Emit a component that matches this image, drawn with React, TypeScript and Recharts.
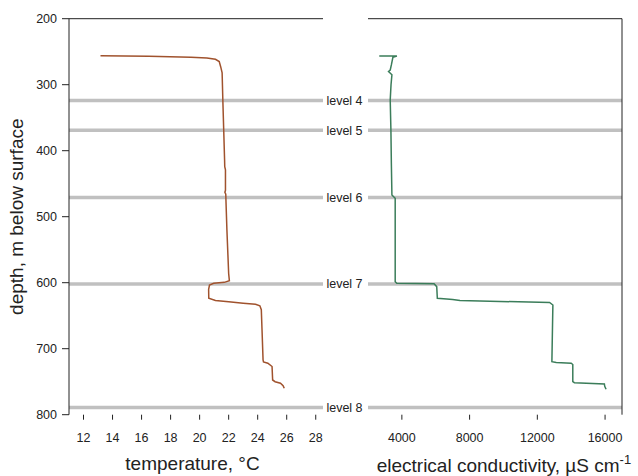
import React from 'react';
import { LineChart, Line, XAxis, YAxis, ReferenceLine } from 'recharts';

// Temperature profile (depth in m, temperature in °C)
const tempDepth = [256, 257, 258.5, 259.5, 261.5, 265, 272.7, 282, 324, 369, 414, 424, 429, 460, 463, 466, 520, 586, 597, 599.5, 601, 603.5, 610, 623.6, 627, 629, 631, 632.7, 635, 641, 672, 717, 720, 722, 727, 747.4, 750, 752.4, 756, 760];
const tempValues = [13.17, 16.5, 19.4, 20.5, 21.09, 21.35, 21.45, 21.55, 21.6, 21.66, 21.72, 21.73, 21.78, 21.78, 21.74, 21.8, 21.88, 22.0, 22.05, 21.7, 20.97, 20.68, 20.62, 20.63, 21.09, 22.0, 23.0, 23.85, 24.15, 24.25, 24.3, 24.37, 24.4, 24.7, 24.99, 25.03, 25.2, 25.57, 25.75, 25.83];

// Electrical conductivity profile (depth in m, µS/cm)
const condDepth = [256.5, 256.5, 258.5, 270, 277.7, 280, 285, 300, 323, 368.6, 420, 467, 472, 598.5, 601, 601.5, 606, 623.6, 624.7, 625.5, 627, 630, 633.8, 719.7, 721, 722, 724, 750, 751.5, 753.5, 757, 761.5];
const condValues = [2665, 3706, 3470, 3380, 3312, 3212, 3412, 3360, 3312, 3353, 3380, 3412, 3606, 3606, 3700, 5900, 6059, 6094, 6647, 7000, 7429, 12724, 12918, 12860, 13118, 14000, 14094, 14094, 14190, 15959, 15980, 16059];

const levelDepths = [324, 369, 471, 602, 789];
const levelNames = ['level 4', 'level 5', 'level 6', 'level 7', 'level 8'];

const depthTicks = [200, 300, 400, 500, 600, 700, 800];
const tempTicks = [12, 14, 16, 18, 20, 22, 24, 26, 28];
const condTicks = [4000, 8000, 12000, 16000];

const tempData = tempDepth.map((d, i) => ({ depth: d, temp: tempValues[i] }));
const condData = condDepth.map((d, i) => ({ depth: d, cond: condValues[i] }));

const FONT = '"Liberation Sans", Arial, Helvetica, sans-serif';
const TXT = '#222';
const GRAY = '#c0c0c0';

const TempTitle = () => (
  <text x={192.5} y={470} textAnchor="middle" fontSize={19} fill={TXT}>
    temperature, °C
  </text>
);

const CondTitle = () => (
  <text x={8.7} y={471.5} fontSize={19} fill={TXT}>
    electrical conductivity, µS cm
    <tspan dy={-8} fontSize={13}>-1</tspan>
  </text>
);

const DepthTitle = () => (
  <text x={23} y={216.7} transform="rotate(-90 23 216.7)" textAnchor="middle" fontSize={19} fill={TXT}>
    depth, m below surface
  </text>
);

const makeLevelLabel = (name: string) => (props: any) => {
  const vb = props.viewBox || {};
  const x = (vb.x || 0) + (vb.width || 0) + 21.5;
  return (
    <text x={x} y={vb.y} dy="0.355em" textAnchor="middle" fontSize={12.5} fill={TXT}>
      {name}
    </text>
  );
};

const tickStyle = { fontSize: 12.5, fill: TXT };

export default function App() {
  return (
    <div style={{ position: 'absolute', left: 0, top: 0, width: 638, height: 476, fontFamily: FONT, background: '#fff' }}>
      <div style={{ position: 'absolute', left: 0, top: 0 }}>
        <LineChart width={368} height={476} data={tempData} margin={{ top: 18.7, right: 45, bottom: 0, left: 0 }}>
          <XAxis
            type="number"
            dataKey="temp"
            domain={[11, 28.5]}
            ticks={tempTicks}
            interval={0}
            axisLine={false}
            tickSize={5}
            tickMargin={13}
            tick={tickStyle}
            tickLine={{ stroke: TXT }}
            height={61.3}
            label={{ content: () => <TempTitle /> }}
          />
          <YAxis
            type="number"
            domain={[200, 800]}
            reversed
            ticks={depthTicks}
            interval={0}
            width={69}
            tickSize={7}
            tickMargin={5}
            tick={tickStyle}
            tickLine={{ stroke: TXT }}
            axisLine={{ stroke: TXT }}
            label={{ content: () => <DepthTitle /> }}
          />
          {levelDepths.map((d, i) => (
            <ReferenceLine key={levelNames[i]} y={d} stroke={GRAY} strokeWidth={3.5} label={makeLevelLabel(levelNames[i])} />
          ))}
          <ReferenceLine y={200} stroke={TXT} strokeWidth={1} />
          <Line type="linear" dataKey="depth" stroke="#a0522d" strokeWidth={1.5} dot={false} isAnimationActive={false} />
        </LineChart>
      </div>
      <div style={{ position: 'absolute', left: 368, top: 0 }}>
        <LineChart width={270} height={476} data={condData} margin={{ top: 18.7, right: 0, bottom: 0, left: 0 }}>
          <XAxis
            type="number"
            dataKey="cond"
            domain={[2000, 17000]}
            ticks={condTicks}
            interval={0}
            axisLine={false}
            tickSize={5}
            tickMargin={13}
            tick={tickStyle}
            tickLine={{ stroke: TXT }}
            height={61.3}
            label={{ content: () => <CondTitle /> }}
          />
          <YAxis
            type="number"
            orientation="right"
            domain={[200, 800]}
            reversed
            width={16}
            tick={false}
            tickLine={false}
            axisLine={{ stroke: TXT }}
          />
          {levelDepths.map((d, i) => (
            <ReferenceLine key={levelNames[i]} y={d} stroke={GRAY} strokeWidth={3.5} />
          ))}
          <ReferenceLine y={200} stroke={TXT} strokeWidth={1} />
          <Line type="linear" dataKey="depth" stroke="#3b7d5a" strokeWidth={1.5} dot={false} isAnimationActive={false} />
        </LineChart>
      </div>
    </div>
  );
}
